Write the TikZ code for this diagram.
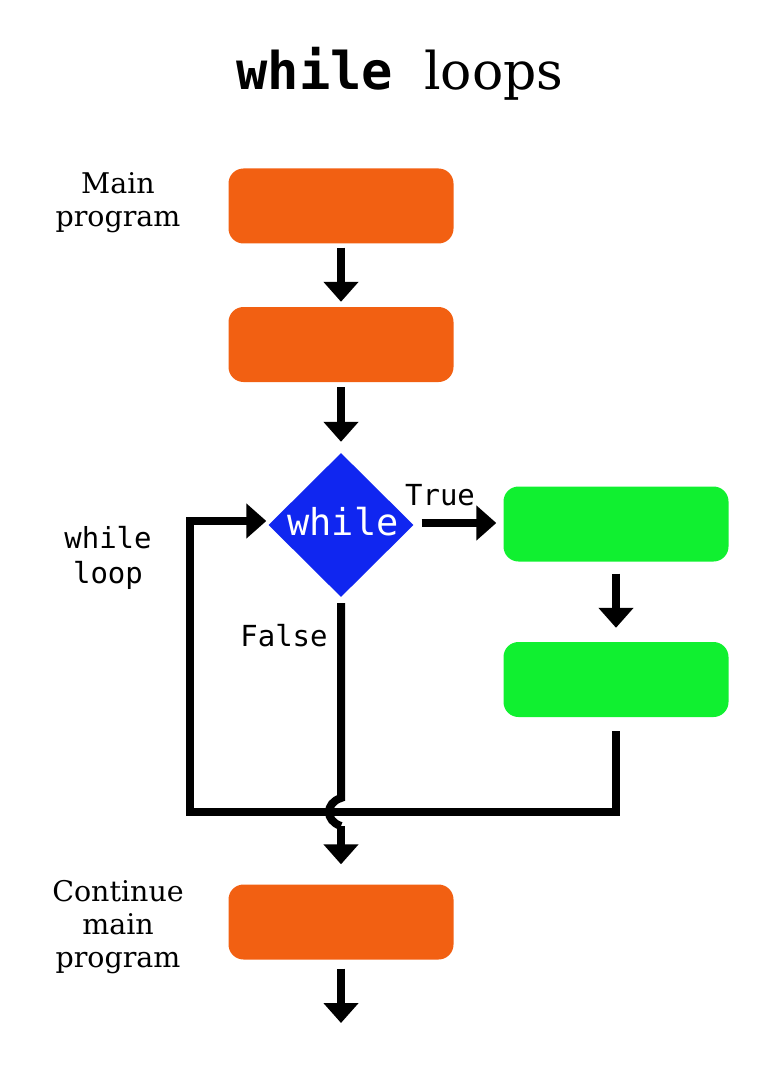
\documentclass[tikz,border=0pt]{standalone}
\usepackage{fontspec}
\setmainfont{DejaVu Serif}
\setmonofont{DejaVu Sans Mono}
\usetikzlibrary{shapes.geometric,arrows.meta}
\definecolor{prog}{RGB}{242,96,18}
\definecolor{loopc}{RGB}{16,240,48}
\definecolor{cond}{RGB}{16,38,240}
\tikzset{
  box/.style={fill=#1,draw=none,rounded corners=15pt,minimum width=225pt,minimum height=75pt,inner sep=0pt},
  flow/.style={line width=8pt,-{Triangle[width=34pt,length=20pt]}},
  flowline/.style={line width=8pt},
  side/.style={align=center,font=\fontsize{28.5}{33}\selectfont},
  monolabel/.style={align=center,font=\ttfamily\fontsize{29}{35}\selectfont},
}
\begin{document}
\begin{tikzpicture}[x=1pt,y=-1pt]
\useasboundingbox (0,0) rectangle (768,1067);
\node[anchor=base,font=\fontsize{52}{62}\selectfont] (title) at (400,90) {{\ttfamily\bfseries while }loops};

\node[box=prog] (b1) at (341,206) {};
\node[box=prog] (b2) at (341,344.5) {};
\node[diamond,fill=cond,inner sep=0pt,minimum width=145pt,minimum height=144pt] (d) at (341,525) {};
\node[text=white,font=\ttfamily\fontsize{37}{44}\selectfont] (dt) at (343,522) {while};
\node[box=loopc] (g1) at (616,524) {};
\node[box=loopc] (g2) at (616,679.5) {};
\node[box=prog] (b3) at (341,922) {};

\node[side] (lmain) at (118,203) {Main\\program};
\node[monolabel] (lloop) at (108,558) {while\\loop};
\node[side] (lcont) at (118,927) {Continue\\main\\program};
\node[monolabel] (ltrue) at (440,495) {True};
\node[monolabel] (lfalse) at (284,636) {False};

\coordinate (end) at (341,1023);
\coordinate (c1) at (616,812);
\coordinate (c2) at (190,812);
\coordinate (c3) at (190,521);
\coordinate (j1) at (341,798);
\coordinate (j2) at (341,826);

\draw[flow,shorten <=4pt,shorten >=5pt] (b1.south) -- (b2.north);
\draw[flow,shorten <=5pt,shorten >=11pt] (b2.south) -- (d.north);
\draw[flow] ([xshift=8pt,yshift=2pt]d.east) -- ([xshift=-7pt,yshift=1pt]g1.west);
\draw[flow,shorten <=12pt,shorten >=14pt] (g1.south) -- (g2.north);
\draw[flow] ([yshift=-14pt]g2.south) -- (c1) -- (c2) -- (c3) -- ([xshift=-2pt,yshift=4pt]d.west);
\draw[flowline] ([yshift=-6pt]d.south) -- (j1) .. controls (325,803) and (325,821) .. (j2);
\draw[flow] (j2) -- ([yshift=20pt]b3.north);
\draw[flow,shorten <=9pt] (b3.south) -- (end);
\end{tikzpicture}
\end{document}
